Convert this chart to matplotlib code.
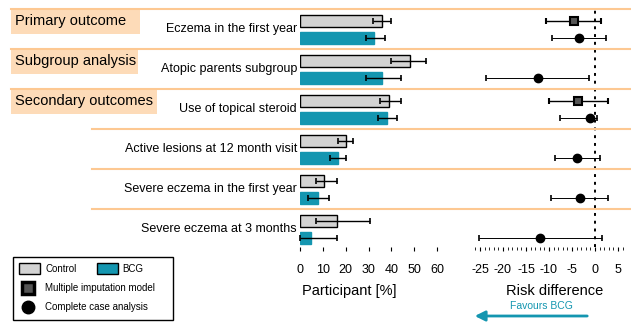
import numpy as np
import matplotlib
matplotlib.use('Agg')
import matplotlib.pyplot as plt
from matplotlib.patches import Rectangle, FancyArrowPatch
from matplotlib.lines import Line2D

plt.rcParams['font.family'] = ['Liberation Sans', 'DejaVu Sans']
plt.rcParams['axes.unicode_minus'] = False

# ---- data ----
outcomes = ["Eczema in the first year", "Atopic parents subgroup",
            "Use of topical steroid", "Active lesions at 12 month visit",
            "Severe eczema in the first year", "Severe eczema at 3 months"]
sections = ["Primary outcome", "Subgroup analysis", "Secondary outcomes"]

control_pct = [36, 48, 39, 20, 10.7, 16]
control_lo = [32, 40, 35, 16.5, 7, 7]
control_hi = [40, 55, 44, 23, 16, 30.5]
bcg_pct = [32.5, 36, 38, 16.5, 8, 5]
bcg_lo = [29, 29, 34, 13, 3.5, 0]
bcg_hi = [37, 44, 42.5, 20, 12.7, 16]

# risk difference, multiple imputation model (NaN = not shown)
mi_est = [-4.6, np.nan, -3.6, np.nan, np.nan, np.nan]
mi_lo = [-10.6, np.nan, -10.0, np.nan, np.nan, np.nan]
mi_hi = [1.3, np.nan, 2.8, np.nan, np.nan, np.nan]
# risk difference, complete case analysis
cc_est = [-3.4, -12.4, -1.0, -3.9, -3.2, -12.0]
cc_lo = [-9.3, -23.7, -7.6, -8.7, -9.5, -25.2]
cc_hi = [2.4, -1.3, 0.5, 1.0, 2.8, 1.5]

pct_ticks = [0, 10, 20, 30, 40, 50, 60]
rd_ticks = [-25, -20, -15, -10, -5, 0, 5]

GREY = '#d3d3d3'
TEAL = '#1496b0'
PEACH = '#fddbb8'
ORANGE = '#fdc892'

W, H = 631, 325
fig = plt.figure(figsize=(W / 100, H / 100), dpi=100)


def fx(px):
    return px / W


def fy(py):
    return 1 - py / H


top_px, bot_px = 9, 247
n = len(outcomes)
row_h = 40.0
ymax = (bot_px - top_px) / row_h

ax_bar = fig.add_axes([fx(300), fy(bot_px), fx(160), (bot_px - top_px) / H])
ax_rd = fig.add_axes([fx(470.8), fy(bot_px), fx(629.5 - 470.8), (bot_px - top_px) / H])

y = np.arange(n)
y_ctrl = y + 0.30
y_bcg = y + 0.72
bh = 0.29

# bars
ax_bar.barh(y_ctrl, control_pct, height=bh, color=GREY, edgecolor='black', lw=1)
ax_bar.barh(y_bcg, bcg_pct, height=bh, color=TEAL, edgecolor=TEAL, lw=1)
c = np.array(control_pct)
b = np.array(bcg_pct)
ax_bar.errorbar(c, y_ctrl, xerr=[c - np.array(control_lo), np.array(control_hi) - c],
                fmt='none', ecolor='black', elinewidth=1, capsize=2.5, capthick=1.2,
                clip_on=False)
ax_bar.errorbar(b, y_bcg, xerr=[b - np.array(bcg_lo), np.array(bcg_hi) - b],
                fmt='none', ecolor='black', elinewidth=1, capsize=2.5, capthick=1.2,
                clip_on=False)
ax_bar.set_xlim(0, 70)
ax_bar.set_ylim(ymax, 0)
ax_bar.set_xticks(pct_ticks)
ax_bar.set_yticks([])
ax_bar.tick_params(axis='x', length=3, width=0.8, labelsize=9, pad=9)
ax_bar.set_xlabel("Participant [%]", fontsize=10.5)
ax_bar.xaxis.set_label_coords(0.31, -0.155)
for s in ax_bar.spines.values():
    s.set_visible(False)

# risk difference
ax_rd.axvline(0, color='black', ls=(0, (1.5, 2.5)), lw=1.4)
m = np.array(mi_est)
ax_rd.errorbar(m, y_ctrl, xerr=[m - np.array(mi_lo), np.array(mi_hi) - m],
               fmt='s', ms=6, mfc='#555555', mec='black', mew=1.5, color='black',
               elinewidth=1, capsize=2.5, capthick=1.2)
k = np.array(cc_est)
ax_rd.errorbar(k, y_bcg, xerr=[k - np.array(cc_lo), np.array(cc_hi) - k],
               fmt='o', ms=6, color='black', elinewidth=0.7, capsize=2.5,
               capthick=1.2)
ax_rd.set_xlim(-27, 7.5)
ax_rd.set_ylim(ymax, 0)
ax_rd.set_xticks(rd_ticks)
ax_rd.set_xticks(np.arange(-26, 7, 1), minor=True)
ax_rd.set_yticks([])
ax_rd.tick_params(axis='x', length=3, width=0.8, labelsize=9, pad=9)
ax_rd.tick_params(axis='x', which='minor', length=2, width=0.6)
ax_rd.set_xlabel("Risk difference", fontsize=10.5)
ax_rd.xaxis.set_label_coords(0.53, -0.155)
for s in ax_rd.spines.values():
    s.set_visible(False)

# separators, section boxes and row labels
sep_starts = [11, 11, 11, 92, 92, 92]
for i in range(n):
    ypx = top_px + i * row_h
    fig.add_artist(Line2D([fx(sep_starts[i]), 1], [fy(ypx), fy(ypx)],
                          color=ORANGE, lw=1.5))
    fig.text(fx(297), fy(ypx + 20), outcomes[i], ha='right', va='center',
             fontsize=9)

box_w = [129, 127, 146]
for i, name in enumerate(sections):
    ypx = top_px + i * row_h + 1
    fig.add_artist(Rectangle((fx(11), fy(ypx + 24)), fx(box_w[i]), 24 / H,
                             color=PEACH, lw=0))
    fig.text(fx(15), fy(ypx + 11), name, ha='left', va='center', fontsize=10.5)

# legend box
fig.add_artist(Rectangle((fx(13), fy(320)), fx(160), 63 / H, fill=False,
                         edgecolor='black', lw=1))
fig.add_artist(Rectangle((fx(19), fy(274)), fx(21), 11 / H, facecolor=GREY,
                         edgecolor='black', lw=1))
fig.text(fx(45), fy(268.5), "Control", fontsize=7, va='center')
fig.add_artist(Rectangle((fx(97), fy(274)), fx(21), 11 / H, facecolor=TEAL,
                         edgecolor='black', lw=1))
fig.text(fx(122), fy(268.5), "BCG", fontsize=7, va='center')
fig.add_artist(Line2D([fx(27.5)], [fy(288)], marker='s', ms=9, mfc='#555555',
                      mec='black', mew=2.5, lw=0))
fig.text(fx(45), fy(288), "Multiple imputation model", fontsize=7, va='center')
fig.add_artist(Line2D([fx(27.5)], [fy(307)], marker='o', ms=9, color='black',
                      lw=0))
fig.text(fx(45), fy(307), "Complete case analysis", fontsize=7, va='center')

# favours arrow
fig.text(fx(541), fy(306), "Favours BCG", color=TEAL, fontsize=7.5,
         ha='center', va='center')
fig.add_artist(FancyArrowPatch(
    (fx(590), fy(316)), (fx(472), fy(316)), transform=fig.transFigure,
    arrowstyle='-|>,head_length=6,head_width=3', color=TEAL, lw=2))

fig.savefig('out.png', dpi=100)
plt.close()
